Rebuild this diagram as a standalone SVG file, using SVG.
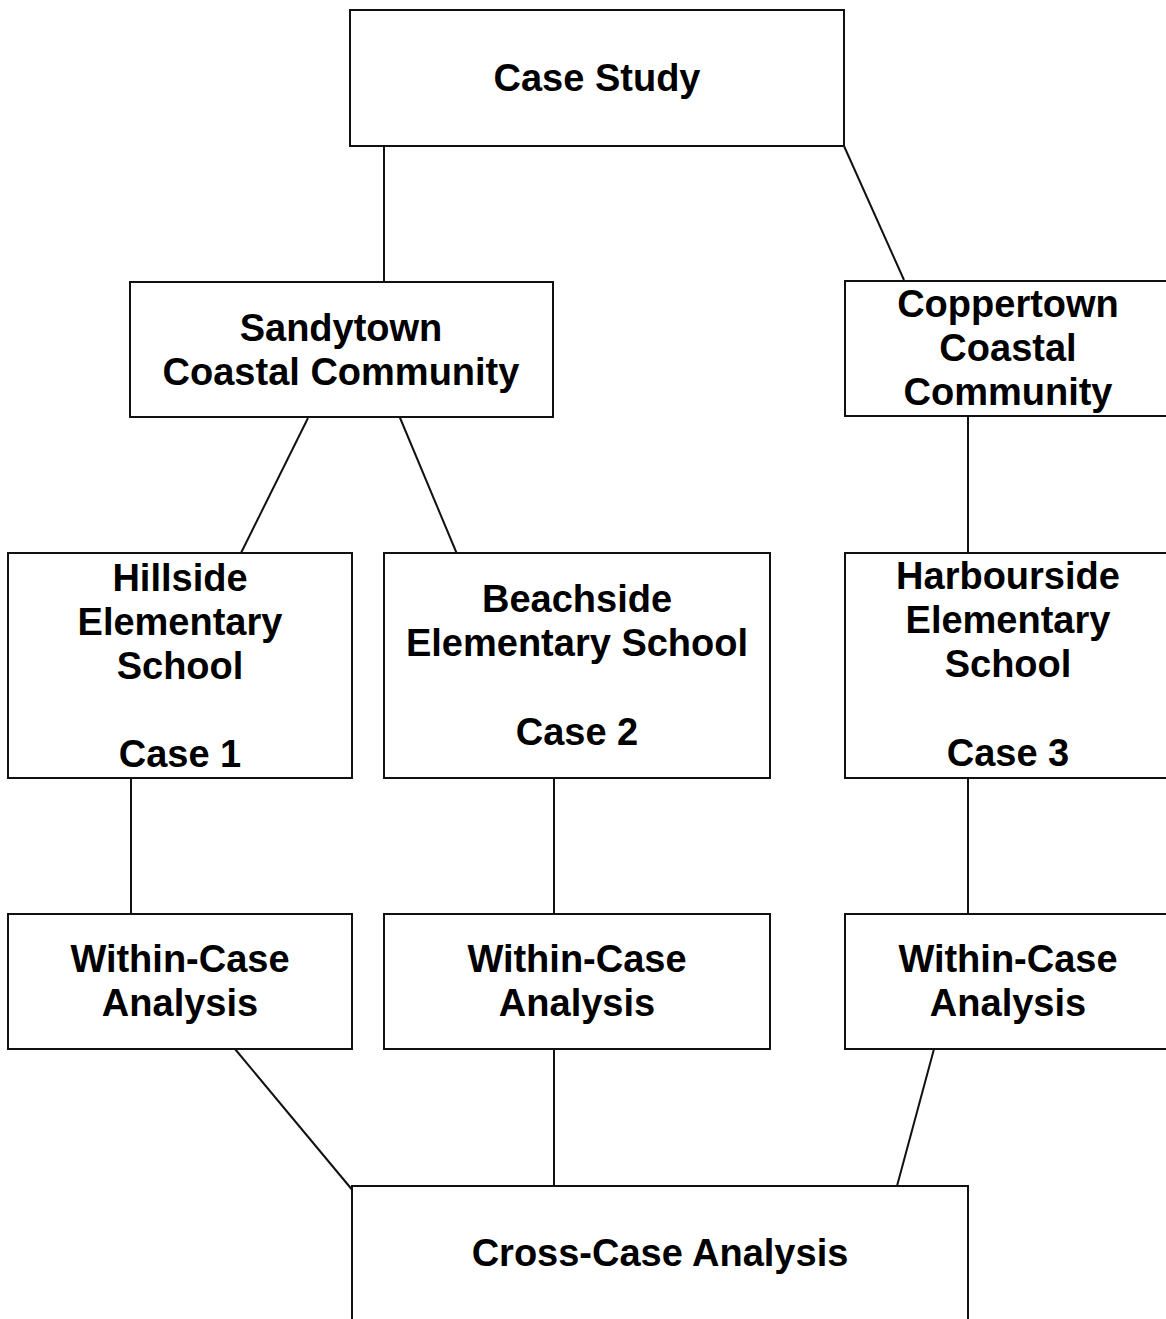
<svg xmlns="http://www.w3.org/2000/svg" width="1166" height="1319" viewBox="0 0 1166 1319">
<style>
.box{fill:#fff;stroke:#111;stroke-width:2}
.t{font-family:"Liberation Sans",Arial,sans-serif;font-weight:bold;font-size:38px;fill:#000;text-anchor:middle}
.c{stroke:#111;stroke-width:2;fill:none}
</style>
<rect width="1166" height="1319" fill="#fff"/>
<g id="connectors">
<line class="c" x1="384" y1="146" x2="384" y2="282"/>
<line class="c" x1="844" y1="146" x2="904" y2="280"/>
<line class="c" x1="308" y1="418" x2="241" y2="553"/>
<line class="c" x1="398" y1="413" x2="457" y2="554"/>
<line class="c" x1="968" y1="416" x2="968" y2="553"/>
<line class="c" x1="131" y1="778" x2="131" y2="914"/>
<line class="c" x1="554" y1="778" x2="554" y2="914"/>
<line class="c" x1="968" y1="778" x2="968" y2="914"/>
<line class="c" x1="235" y1="1049" x2="354" y2="1192"/>
<line class="c" x1="554" y1="1049" x2="554" y2="1186"/>
<line class="c" x1="934" y1="1049" x2="897" y2="1186"/>
</g>
<g id="case-study">
<rect class="box" x="350" y="10" width="494" height="136"/>
<text class="t" x="597" y="91">Case Study</text>
</g>
<g id="sandytown">
<rect class="box" x="130" y="282" width="423" height="135"/>
<text class="t" x="341" y="341">Sandytown</text>
<text class="t" x="341" y="385">Coastal Community</text>
</g>
<g id="coppertown">
<rect class="box" x="845" y="281" width="330" height="135"/>
<text class="t" x="1008" y="317">Coppertown</text>
<text class="t" x="1008" y="361">Coastal</text>
<text class="t" x="1008" y="405">Community</text>
</g>
<g id="hillside">
<rect class="box" x="8" y="553" width="344" height="225"/>
<text class="t" x="180" y="591">Hillside</text>
<text class="t" x="180" y="635">Elementary</text>
<text class="t" x="180" y="679">School</text>
<text class="t" x="180" y="767">Case 1</text>
</g>
<g id="beachside">
<rect class="box" x="384" y="553" width="386" height="225"/>
<text class="t" x="577" y="612">Beachside</text>
<text class="t" x="577" y="656">Elementary School</text>
<text class="t" x="577" y="745">Case 2</text>
</g>
<g id="harbourside">
<rect class="box" x="845" y="553" width="330" height="225"/>
<text class="t" x="1008" y="589">Harbourside</text>
<text class="t" x="1008" y="633">Elementary</text>
<text class="t" x="1008" y="677">School</text>
<text class="t" x="1008" y="766">Case 3</text>
</g>
<g id="within-1">
<rect class="box" x="8" y="914" width="344" height="135"/>
<text class="t" x="180" y="972">Within-Case</text>
<text class="t" x="180" y="1016">Analysis</text>
</g>
<g id="within-2">
<rect class="box" x="384" y="914" width="386" height="135"/>
<text class="t" x="577" y="972">Within-Case</text>
<text class="t" x="577" y="1016">Analysis</text>
</g>
<g id="within-3">
<rect class="box" x="845" y="914" width="330" height="135"/>
<text class="t" x="1008" y="972">Within-Case</text>
<text class="t" x="1008" y="1016">Analysis</text>
</g>
<g id="cross-case">
<rect class="box" x="352" y="1186" width="616" height="150"/>
<text class="t" x="660" y="1266">Cross-Case Analysis</text>
</g>
</svg>
